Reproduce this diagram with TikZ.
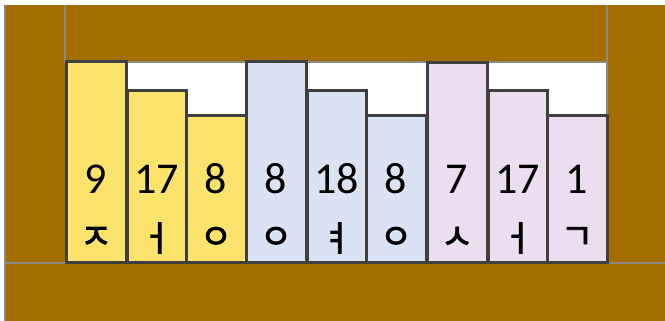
\documentclass[tikz,border=0pt]{standalone}
\usepackage{fontspec}
\setmainfont{Carlito}
\newfontfamily\kofont[FakeBold=2.5]{Noto Sans CJK KR}
\definecolor{shelf}{HTML}{A46D00}
\definecolor{edgegray}{HTML}{8A8A80}
\definecolor{bookY}{HTML}{FCE46C}
\definecolor{bookB}{HTML}{DAE3F3}
\definecolor{bookP}{HTML}{EADEF0}
\definecolor{bookline}{HTML}{404040}
\tikzset{
  frameedge/.style={draw=edgegray,line width=1.8pt},
  book/.style={draw=bookline,line width=3pt},
  num/.style={font=\fontsize{44}{44}\selectfont,text=black,inner sep=0pt},
  jamo/.style={font=\kofont\fontsize{35}{35}\selectfont,text=black,inner sep=0pt}
}
\begin{document}
\begin{tikzpicture}[x=1pt,y=-1pt]
\useasboundingbox (0,0) rectangle (665,321);
% shelf
\fill[shelf] (5,5) rectangle (665,321);
\fill[white] (66,62) rectangle (607,262);
\draw[frameedge] (5,5) -- (5,321);
\draw[frameedge] (65,5) -- (65,62) -- (607,62);
\draw[frameedge] (607,5) -- (607,263);
\draw[frameedge] (5,263) -- (665,263);
% books
\draw[book,fill=bookY] (66,62) rectangle (126,262);
\draw[book,fill=bookY] (127,91) rectangle (186,262);
\draw[book,fill=bookY] (186,116) rectangle (246,262);
\draw[book,fill=bookB] (246,62) rectangle (306,262);
\draw[book,fill=bookB] (307,91) rectangle (366,262);
\draw[book,fill=bookB] (366,116) rectangle (426,262);
\draw[book,fill=bookP] (427,63) rectangle (487,262);
\draw[book,fill=bookP] (488,91) rectangle (547,262);
\draw[book,fill=bookP] (547,116) rectangle (607,262);
% numbers
\node[num] (n1) at (96,179) {9};
\node[num] (n2) at (156.5,179) {17};
\node[num] (n3) at (216,179) {8};
\node[num] (n4) at (276,179) {8};
\node[num] (n5) at (336.5,179) {18};
\node[num] (n6) at (396,179) {8};
\node[num] (n7) at (457,179) {7};
\node[num] (n8) at (517.5,179) {17};
\node[num] (n9) at (577,179) {1};
% jamo
\node[jamo] (j1) at (96,238) {ㅈ};
\node[jamo] (j2) at (156.5,238) {ㅓ};
\node[jamo] (j3) at (216,238) {ㅇ};
\node[jamo] (j4) at (276,238) {ㅇ};
\node[jamo] (j5) at (336.5,238) {ㅕ};
\node[jamo] (j6) at (396,238) {ㅇ};
\node[jamo] (j7) at (457,238) {ㅅ};
\node[jamo] (j8) at (517.5,238) {ㅓ};
\node[jamo] (j9) at (577,238) {ㄱ};
\end{tikzpicture}
\end{document}
